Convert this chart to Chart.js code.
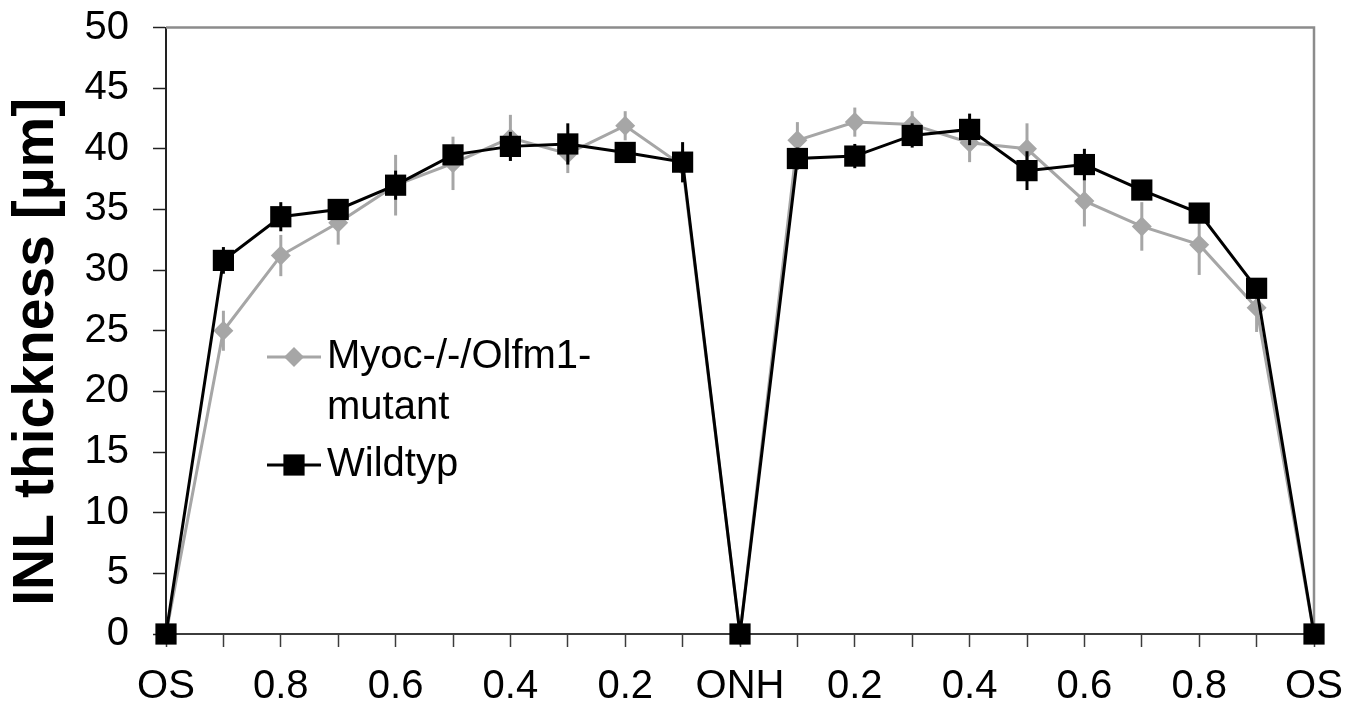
<!DOCTYPE html>
<html>
<head>
<meta charset="utf-8">
<script src="https://cdn.jsdelivr.net/npm/chart.js@4.4.0/dist/chart.umd.min.js"></script>
<style>
    html, body { margin: 0; padding: 0; background: #fff; }
</style>
</head>
<body>
<canvas id="inlChart" width="1362" height="704"></canvas>
<script>
// ===== DATA =====
const positions = ['OS', '0.9', '0.8', '0.7', '0.6', '0.5', '0.4', '0.3', '0.2', '0.1', 'ONH',
                   '0.1', '0.2', '0.3', '0.4', '0.5', '0.6', '0.7', '0.8', '0.9', 'OS'];
const seriesNames = ['Myoc-/-/Olfm1-mutant', 'Wildtyp'];
const yTitle = 'INL thickness [µm]';
const mutantValues = [0, 25.0, 31.2, 33.9, 37.0, 38.8, 40.9, 39.6, 41.9, 38.6, 0,
                      40.7, 42.2, 42.0, 40.5, 40.0, 35.7, 33.6, 32.1, 26.9, 0];
const mutantErrors = [0, 1.65, 1.7, 1.8, 2.5, 2.2, 1.9, 1.6, 1.2, 1.4, 0,
                      1.5, 1.2, 1.1, 1.6, 2.1, 2.1, 2.0, 2.5, 2.0, 0];
const wildtypValues = [0, 30.8, 34.4, 35.0, 37.0, 39.5, 40.2, 40.4, 39.7, 38.9, 0,
                       39.2, 39.4, 41.1, 41.6, 38.2, 38.7, 36.6, 34.7, 28.5, 0];
const wildtypErrors = [0, 1.1, 1.2, 0.7, 1.2, 0.8, 1.2, 1.7, 0.6, 1.65, 0,
                       0.9, 1.0, 1.0, 1.3, 1.6, 1.3, 0.6, 0.8, 0.6, 0];
const yMin = 0, yMax = 50, yStep = 5;

const GREY = '#a6a6a6';
const BLACK = '#000000';
const FONT = 'Liberation Sans, Arial, sans-serif';

// ===== ERROR BARS (vertical, no caps) =====
const errorBarPlugin = {
    id: 'errorBars',
    beforeDatasetDraw(chart, args) {
        const ds = chart.data.datasets[args.index];
        if (!ds.errors) return;
        const yScale = chart.scales.y;
        const ctx = chart.ctx;
        ctx.save();
        ctx.strokeStyle = ds.borderColor;
        ctx.lineWidth = 3;
        args.meta.data.forEach((pt, i) => {
            const err = ds.errors[i];
            if (!err) return;
            const v = ds.data[i];
            ctx.beginPath();
            ctx.moveTo(pt.x, yScale.getPixelForValue(v + err));
            ctx.lineTo(pt.x, yScale.getPixelForValue(v - err));
            ctx.stroke();
        });
        ctx.restore();
    }
};

// ===== TOP / RIGHT FRAME + Y TITLE =====
const framePlugin = {
    id: 'frame',
    beforeDatasetsDraw(chart) {
        const { ctx, chartArea: a } = chart;
        ctx.save();
        ctx.strokeStyle = '#8c8c8c';
        ctx.lineWidth = 2.5;
        ctx.beginPath();
        ctx.moveTo(a.left, a.top);
        ctx.lineTo(a.right, a.top);
        ctx.lineTo(a.right, a.bottom);
        ctx.stroke();

        // axis title, sitting a little below the axis middle like the original
        ctx.translate(37, (a.top + a.bottom) / 2 + 21);
        ctx.rotate(-Math.PI / 2);
        ctx.fillStyle = '#000';
        ctx.font = 'bold 57px ' + FONT;
        ctx.textAlign = 'center';
        ctx.textBaseline = 'middle';
        ctx.fillText(yTitle, 0, 0);
        ctx.restore();
    }
};

// ===== LEGEND INSIDE PLOT =====
function wrapLabel(ctx, text, maxWidth) {
    if (ctx.measureText(text).width <= maxWidth) return [text];
    const cut = text.lastIndexOf('-', text.length - 2);
    return [text.slice(0, cut + 1), text.slice(cut + 1)];
}

function drawMarker(ctx, style, x, y, r, color) {
    ctx.fillStyle = color;
    ctx.beginPath();
    if (style === 'rectRot') {
        ctx.moveTo(x, y - r); ctx.lineTo(x + r, y); ctx.lineTo(x, y + r); ctx.lineTo(x - r, y);
    } else {
        const s = r * Math.SQRT1_2;
        ctx.rect(x - s, y - s, 2 * s, 2 * s);
    }
    ctx.closePath();
    ctx.fill();
}

const insideLegend = {
    id: 'insideLegend',
    afterDraw(chart) {
        const ctx = chart.ctx;
        const x0 = 267, lineLen = 54, textX = 327, lineH = 51;
        let y = 357;
        ctx.save();
        ctx.font = '40px ' + FONT;
        ctx.textBaseline = 'middle';
        chart.data.datasets.forEach(ds => {
            ctx.strokeStyle = ds.borderColor;
            ctx.lineWidth = 3;
            ctx.beginPath();
            ctx.moveTo(x0, y);
            ctx.lineTo(x0 + lineLen, y);
            ctx.stroke();
            drawMarker(ctx, ds.pointStyle, x0 + lineLen / 2, y, ds.pointRadius, ds.pointBackgroundColor);
            ctx.fillStyle = '#000';
            const lines = wrapLabel(ctx, ds.label, 300);
            lines.forEach((l, k) => ctx.fillText(l, textX, y + k * lineH));
            y += lines.length * lineH + 6;
        });
        ctx.restore();
    }
};

// ===== CHART =====
const ctx = document.getElementById('inlChart');
new Chart(ctx, {
    type: 'line',
    data: {
        labels: positions,
        datasets: [{
            label: seriesNames[0],
            data: mutantValues,
            errors: mutantErrors,
            borderColor: GREY,
            backgroundColor: GREY,
            borderWidth: 3,
            pointStyle: 'rectRot',
            pointRadius: 10,
            pointBackgroundColor: GREY,
            pointBorderWidth: 0,
            pointHoverRadius: 10,
            tension: 0,
            clip: false,
            order: 1
        }, {
            label: seriesNames[1],
            data: wildtypValues,
            errors: wildtypErrors,
            borderColor: BLACK,
            backgroundColor: BLACK,
            borderWidth: 3,
            pointStyle: 'rect',
            pointRadius: 15,
            pointBackgroundColor: BLACK,
            pointBorderWidth: 0,
            pointHoverRadius: 15,
            tension: 0,
            clip: false,
            order: 0
        }]
    },
    options: {
        responsive: false,
        animation: false,
        events: [],
        layout: { padding: { top: 27.5, right: 48, left: 0, bottom: 0 } },
        plugins: {
            legend: { display: false },
            tooltip: { enabled: false }
        },
        scales: {
            x: {
                offset: false,
                afterFit(scale) {
                    scale.height = 70;
                    scale.paddingLeft = 0;
                    scale.paddingRight = 0;
                },
                grid: {
                    drawOnChartArea: false,
                    drawTicks: true,
                    tickLength: 13,
                    tickWidth: 1.5,
                    tickColor: '#3c3c3c'
                },
                border: { display: true, color: '#3c3c3c', width: 2 },
                ticks: {
                    autoSkip: false,
                    maxRotation: 0,
                    padding: 16,
                    color: '#000',
                    font: { family: FONT, size: 40 },
                    callback: function (val, idx) {
                        return idx % 2 === 0 ? positions[idx] : '';
                    }
                }
            },
            y: {
                min: yMin,
                max: yMax,
                afterFit(scale) {
                    scale.width = 166;
                    scale.paddingTop = 0;
                    scale.paddingBottom = 0;
                },
                grid: {
                    drawOnChartArea: false,
                    drawTicks: true,
                    tickLength: 13,
                    tickWidth: 1.5,
                    tickColor: '#222'
                },
                border: { display: true, color: '#222', width: 2 },
                ticks: {
                    stepSize: yStep,
                    padding: 24,
                    color: '#000',
                    font: { family: FONT, size: 40 }
                }
            }
        }
    },
    plugins: [errorBarPlugin, framePlugin, insideLegend]
});
</script>
</body>
</html>
